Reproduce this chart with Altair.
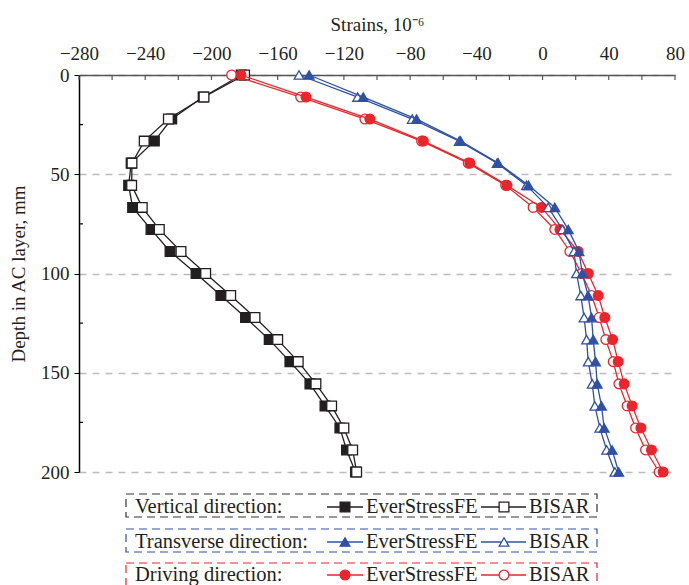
import altair as alt
import pandas as pd

depth = [0, 11.1, 22.2, 33.3, 44.4, 55.6, 66.7, 77.8, 88.9, 100,
         111.1, 122.2, 133.3, 144.4, 155.6, 166.7, 177.8, 188.9, 200]

vert_fe = [-182, -205, -224, -234.5, -248.5, -250, -247.6, -236.5, -225, -209.3,
           -194.3, -179.4, -165.1, -152.6, -140.5, -131.4, -122.4, -118.4, -113]
vert_bisar = [-180, -204.5, -226, -240.6, -248, -248.2, -241.8, -231.5, -218.4, -203.5,
              -188.4, -173.7, -160, -147.6, -136.9, -127.4, -120, -114.7, -112.3]
trans_fe = [-141, -108.3, -76.1, -49.5, -26.8, -8.5, 7.4, 15.5, 22, 24,
            27.5, 29.6, 30.6, 32, 33, 35.6, 37.2, 42, 46]
trans_bisar = [-147.1, -111.7, -78.7, -50.3, -27.4, -9.7, 3.4, 12, 19, 20.5,
               23.1, 25.1, 26.6, 27.6, 30, 31.6, 34.6, 38.7, 43.7]
drive_fe = [-182.2, -142.9, -104.3, -72, -43.9, -21.5, -0.6, 10.5, 21.5, 27.6,
            33.6, 37.6, 42.3, 45.7, 49.3, 54.1, 59.4, 65.8, 72.8]
drive_bisar = [-187.8, -146.1, -107.3, -73.1, -44.9, -22.3, -5.7, 7.4, 16.5, 23.6,
               29.6, 34.2, 38.2, 42.7, 46.1, 51.1, 56.2, 62.2, 70.4]

x_ticks = list(range(-280, 81, 20))
x_labels = list(range(-280, 81, 40))
y_labels = [0, 50, 100, 150, 200]
y_minor = [25, 75, 125, 175]

BLACK = "#231F20"
BLUE = "#2F51A5"
RED = "#E8262B"
FONT = "Times New Roman"

W, H = 596, 397

x_enc = alt.X("strain:Q",
              scale=alt.Scale(domain=[-280, 80], nice=False, zero=False),
              axis=alt.Axis(orient="top", values=x_labels, title="Strains, 10⁻⁶",
                            ticks=False, labelPadding=12, labelFont=FONT, labelFontSize=19,
                            labelFlush=False, labelOverlap=False,
                            labelColor="#231F20", titleFont=FONT, titleFontSize=19,
                            titleFontWeight="normal", titleColor="#231F20", titlePadding=10,
                            domainColor="#555555", domainWidth=1.5, grid=False))
y_enc = alt.Y("depth:Q",
              scale=alt.Scale(domain=[0, 200], reverse=True, nice=False, zero=False),
              axis=alt.Axis(values=y_labels, title="Depth in AC layer, mm",
                            tickSize=5, tickColor="black", labelPadding=5, labelFont=FONT,
                            labelFontSize=19, labelColor="#231F20", titleFont=FONT,
                            labelFlush=False, labelOverlap=False,
                            titleFontSize=19, titleFontWeight="normal", titleColor="#231F20",
                            titlePadding=12, domainColor="black", domainWidth=1.5,
                            grid=True, gridDash=[7, 6], gridColor="#BBBBBB", gridWidth=1.5))


def series(values, color, shape, filled):
    df = pd.DataFrame({"depth": depth, "strain": values})
    return alt.Chart(df).mark_line(
        color=color, strokeWidth=1.3,
        point=alt.OverlayMarkDef(shape=shape, size=95,
                                 filled=True, fill=color if filled else "white",
                                 stroke=color, strokeWidth=1.3, opacity=1)
    ).encode(x=x_enc, y=y_enc, order=alt.Order("depth:Q"))


layers = []
# inward ticks on x (top) axis
layers.append(alt.Chart(pd.DataFrame({"strain": x_ticks})).mark_rule(
    color="#555555", strokeWidth=1.2).encode(x=x_enc, y=alt.value(0), y2=alt.value(5)))
# minor ticks on y axis
layers.append(alt.Chart(pd.DataFrame({"depth": y_minor})).mark_rule(
    color="black", strokeWidth=1.2).encode(y=y_enc, x=alt.value(0), x2=alt.value(4)))

layers += [
    series(vert_fe, BLACK, "square", True),
    series(vert_bisar, BLACK, "square", False),
    series(drive_bisar, RED, "circle", False),
    series(drive_fe, RED, "circle", True),
    series(trans_bisar, BLUE, "triangle-up", False),
    series(trans_fe, BLUE, "triangle-up", True),
]

# legend
one = pd.DataFrame({"a": [0]})
boxes = [("#333333", 419, 442, 438), (BLUE, 454, 477, 473), (RED, 488, 516, 506)]
names = ["Vertical direction:", "Transverse direction:", "Driving direction:"]
shapes = ["square", "triangle-up", "circle"]
colors = [BLACK, BLUE, RED]
for (bc, y0, y1, yb), name, shp, col in zip(boxes, names, shapes, colors):
    ym = yb - 6
    layers.append(alt.Chart(one).mark_rect(fillOpacity=0, stroke=bc, strokeWidth=1.2,
                                           strokeDash=[8, 5]).encode(
        x=alt.value(47), x2=alt.value(518), y=alt.value(y0), y2=alt.value(y1)))
    layers.append(alt.Chart(one).mark_text(align="left", baseline="alphabetic", font=FONT,
                                           fontSize=20.5, color="#231F20").encode(
        x=alt.value(56), y=alt.value(yb), text=alt.value(name)))
    for (lx0, lx1, mx, tx, label, filled) in [(248, 284, 266, 287, "EverStressFE", True),
                                              (402, 447, 425, 450, "BISAR", False)]:
        layers.append(alt.Chart(one).mark_rule(color=col, strokeWidth=1.3).encode(
            x=alt.value(lx0), x2=alt.value(lx1), y=alt.value(ym)))
        layers.append(alt.Chart(one).mark_point(
            shape=shp, size=95, filled=True,
            fill=col if filled else "white", stroke=col, strokeWidth=1.3, opacity=1).encode(
            x=alt.value(mx), y=alt.value(ym)))
        layers.append(alt.Chart(one).mark_text(align="left", baseline="alphabetic", font=FONT,
                                               fontSize=20.5, color="#231F20").encode(
            x=alt.value(tx), y=alt.value(yb), text=alt.value(label)))

chart = alt.layer(*layers).properties(
    width=W, height=H,
    autosize=alt.AutoSizeParams(type="none"),
    padding={"left": 79, "top": 75, "right": 689 - 79 - W, "bottom": 585 - 75 - H},
    background="white",
).configure_view(stroke=None).configure_text(font=FONT)

chart.save("out.html", embed_options={"renderer": "svg", "actions": False})
